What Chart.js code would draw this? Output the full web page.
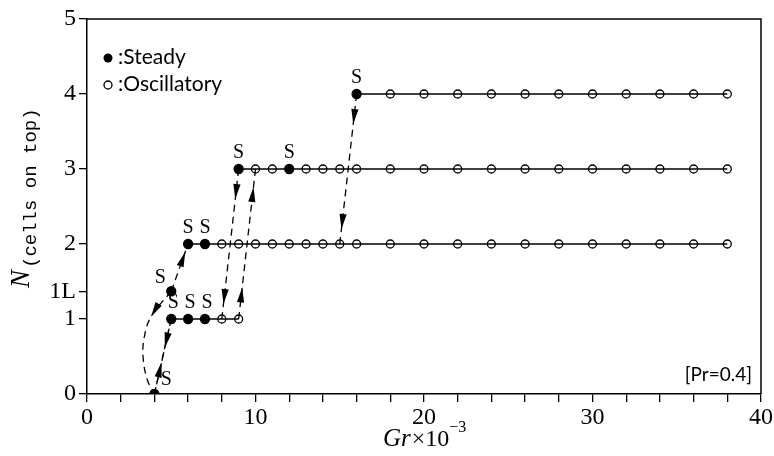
<!DOCTYPE html>
<html>
<head>
<meta charset="utf-8">
<script src="https://cdn.jsdelivr.net/npm/chart.js@4.4.1/dist/chart.umd.min.js"></script>
<style>
  html, body { margin: 0; padding: 0; background: #fff; }
  #wrap { width: 774px; height: 456px; }
</style>
</head>
<body>
<div id="wrap"><canvas id="cellsChart" width="774" height="456"></canvas></div>
<script>
// --- Data ---
const yTickValues = [0, 1, 1.37, 2, 3, 4, 5];
const yTickLabels = ['0', '1', '1L', '2', '3', '4', '5'];

// each branch: Gr values and state (S = steady, O = oscillatory)
const level0X = [4];
const level0State = ['S'];
const level1X = [5, 6, 7, 8, 9];
const level1State = ['S', 'S', 'S', 'O', 'O'];
const level1LX = [5];
const level1LState = ['S'];
const level2X = [6, 7, 8, 9, 10, 11, 12, 13, 14, 15, 16, 18, 20, 22, 24, 26, 28, 30, 32, 34, 36, 38];
const level2State = ['S', 'S', 'O', 'O', 'O', 'O', 'O', 'O', 'O', 'O', 'O', 'O', 'O', 'O', 'O', 'O', 'O', 'O', 'O', 'O', 'O', 'O'];
const level3X = [9, 10, 11, 12, 13, 14, 15, 16, 18, 20, 22, 24, 26, 28, 30, 32, 34, 36, 38];
const level3State = ['S', 'O', 'O', 'S', 'O', 'O', 'O', 'O', 'O', 'O', 'O', 'O', 'O', 'O', 'O', 'O', 'O', 'O', 'O'];
const level4X = [16, 18, 20, 22, 24, 26, 28, 30, 32, 34, 36, 38];
const level4State = ['S', 'O', 'O', 'O', 'O', 'O', 'O', 'O', 'O', 'O', 'O', 'O'];

// dashed transitions: start, end, arrow tip positions (fraction along the path)
const transitions = [
    { from: [5, 1], to: [4, 0], arrows: [0.38] },
    { from: [4, 0], to: [5, 1], arrows: [0.42] },
    { from: [5, 1.37], to: [6, 2], arrows: [0.83] },
    { from: [9, 3], to: [8, 1], arrows: [0.2, 0.9] },
    { from: [9, 1], to: [10, 3], arrows: [0.21, 0.88] },
    { from: [16, 4], to: [15, 2], arrows: [0.2, 0.9] }
];

// curved jump from 1L back to 0
const curveX = [5, 3.8, 3.4, 3.33, 3.58, 4];
const curveY = [1.37, 1.03, 0.76, 0.49, 0.19, 0];

// --- Build datasets ---
const branches = [
    { y: 0, x: level0X, state: level0State },
    { y: 1, x: level1X, state: level1State },
    { y: 1.37, x: level1LX, state: level1LState },
    { y: 2, x: level2X, state: level2State },
    { y: 3, x: level3X, state: level3State },
    { y: 4, x: level4X, state: level4State }
];

const datasets = [];
branches.forEach(b => {
    datasets.push({
        data: b.x.map(x => ({ x: x, y: b.y })),
        showLine: true,
        borderColor: '#000',
        borderWidth: 1.5,
        pointRadius: b.state.map(s => s === 'S' ? 4.5 : 4),
        pointBackgroundColor: b.state.map(s => s === 'S' ? '#000' : 'rgba(0,0,0,0)'),
        pointBorderColor: '#000',
        pointBorderWidth: 1.3,
        tension: 0
    });
});

transitions.forEach(t => {
    datasets.push({
        data: [{ x: t.from[0], y: t.from[1] }, { x: t.to[0], y: t.to[1] }],
        showLine: true,
        borderColor: '#000',
        borderWidth: 1.3,
        borderDash: [7, 5],
        pointRadius: 0,
        tension: 0
    });
});

datasets.push({
    data: curveX.map((x, i) => ({ x: x, y: curveY[i] })),
    showLine: true,
    borderColor: '#000',
    borderWidth: 1.3,
    borderDash: [7, 5],
    pointRadius: 0,
    tension: 0.4
});
const curveIndex = datasets.length - 1;

// --- Helpers ---
function drawArrow(ctx, tipX, tipY, dirX, dirY) {
    const len = Math.hypot(dirX, dirY);
    const ux = dirX / len, uy = dirY / len;
    const L = 15, W = 3.6;
    const bx = tipX - ux * L, by = tipY - uy * L;
    ctx.beginPath();
    ctx.moveTo(tipX, tipY);
    ctx.lineTo(bx - uy * W, by + ux * W);
    ctx.lineTo(bx + uy * W, by - ux * W);
    ctx.closePath();
    ctx.fill();
}

// --- Annotations plugin ---
const annotations = {
    id: 'annotations',
    afterDatasetsDraw(chart) {
        const { ctx, chartArea, scales: { x, y } } = chart;
        ctx.save();

        // frame top and right
        ctx.strokeStyle = '#000';
        ctx.lineWidth = 1.5;
        ctx.beginPath();
        ctx.moveTo(chartArea.left, chartArea.top);
        ctx.lineTo(chartArea.right, chartArea.top);
        ctx.lineTo(chartArea.right, chartArea.bottom);
        ctx.stroke();

        // arrowheads on straight transitions
        ctx.fillStyle = '#000';
        transitions.forEach(t => {
            const x0 = x.getPixelForValue(t.from[0]), y0 = y.getPixelForValue(t.from[1]);
            const x1 = x.getPixelForValue(t.to[0]), y1 = y.getPixelForValue(t.to[1]);
            t.arrows.forEach(f => {
                drawArrow(ctx, x0 + (x1 - x0) * f, y0 + (y1 - y0) * f, x1 - x0, y1 - y0);
            });
        });

        // arrowhead on the curve
        const pts = chart.getDatasetMeta(curveIndex).data;
        drawArrow(ctx, pts[1].x, pts[1].y, pts[2].x - pts[0].x, pts[2].y - pts[0].y);

        // S labels over steady points
        ctx.font = '20px "Liberation Serif"';
        ctx.textAlign = 'center';
        ctx.textBaseline = 'middle';
        branches.forEach(b => {
            b.x.forEach((gx, i) => {
                if (b.state[i] !== 'S') return;
                let dx = 0, dy = -16;
                if (b.y === 0) { dx = 12; dy = -14; }
                if (b.y === 1.37) { dx = -11; dy = -14; }
                if (b.y === 1) { dx = 2; }
                ctx.fillText('S', x.getPixelForValue(gx) + dx, y.getPixelForValue(b.y) + dy);
            });
        });

        // legend
        ctx.beginPath();
        ctx.arc(108, 58, 4.5, 0, Math.PI * 2);
        ctx.fill();
        ctx.beginPath();
        ctx.lineWidth = 1.3;
        ctx.arc(108, 85, 4, 0, Math.PI * 2);
        ctx.stroke();
        ctx.font = '21px "Lato", "Noto Sans"';
        ctx.textAlign = 'left';
        ctx.fillText(':Steady', 118, 57);
        ctx.fillText(':Oscillatory', 118, 84);

        // Pr box
        ctx.font = '19px "Lato", "Noto Sans"';
        ctx.textAlign = 'right';
        ctx.fillText('[Pr=0.4]', 752, 375);

        // x title: Gr x 10^-3
        ctx.textAlign = 'left';
        ctx.textBaseline = 'alphabetic';
        let cx = 383;
        ctx.font = 'italic 25px "Liberation Serif"';
        ctx.fillText('Gr', cx, 446);
        cx += ctx.measureText('Gr').width + 1;
        ctx.font = '24px "Liberation Serif"';
        ctx.fillText('\u00d710', cx, 446);
        cx += ctx.measureText('\u00d710').width;
        ctx.font = '16px "Liberation Serif"';
        ctx.fillText('\u22123', cx, 432);

        // y title: N_(cells on top), rotated
        ctx.save();
        ctx.translate(29, 288);
        ctx.rotate(-Math.PI / 2);
        ctx.font = 'italic 27px "Liberation Serif"';
        ctx.fillText('N', 0, 0);
        const nW = ctx.measureText('N').width;
        ctx.font = '19px "Liberation Mono"';
        ctx.fillText('(cells on top)', nW + 2, 7);
        ctx.restore();

        ctx.restore();
    }
};

// --- Chart ---
new Chart(document.getElementById('cellsChart'), {
    type: 'scatter',
    data: { datasets: datasets },
    options: {
        responsive: false,
        devicePixelRatio: 1,
        animation: false,
        layout: { autoPadding: false, padding: { left: 0, right: 12, top: 19, bottom: 0 } },
        plugins: { legend: { display: false }, tooltip: { enabled: false } },
        scales: {
            x: {
                type: 'linear',
                min: 0,
                max: 40,
                afterFit: s => { s.height = 62; },
                grid: { drawOnChartArea: false, drawTicks: true, tickLength: 8, color: '#000', lineWidth: 1.3 },
                border: { display: true, color: '#000', width: 1.5 },
                ticks: {
                    stepSize: 2,
                    autoSkip: false,
                    maxRotation: 0,
                    padding: 1,
                    color: '#000',
                    font: { family: 'Liberation Serif', size: 24 },
                    callback: v => (v % 10 === 0 ? String(v) : '')
                }
            },
            y: {
                type: 'linear',
                min: 0,
                max: 5,
                afterFit: s => { s.width = 87; },
                afterBuildTicks: s => { s.ticks = yTickValues.map(v => ({ value: v })); },
                grid: { drawOnChartArea: false, drawTicks: true, tickLength: 8, color: '#000', lineWidth: 1.3 },
                border: { display: true, color: '#000', width: 1.5 },
                ticks: {
                    padding: 3,
                    color: '#000',
                    font: { family: 'Liberation Serif', size: 24 },
                    callback: v => yTickLabels[yTickValues.indexOf(v)]
                }
            }
        }
    },
    plugins: [annotations]
});
</script>
</body>
</html>
